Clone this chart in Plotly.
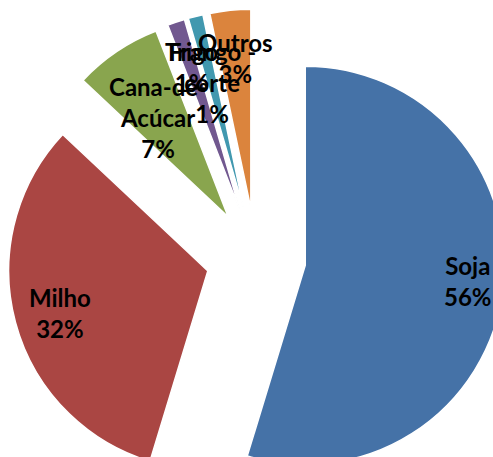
import math
import plotly.graph_objects as go

# ---- data ----
categories = ["Soja", "Milho", "Cana-de-Acúcar", "Trigo", "Frango - corte", "Outros"]
values = [54.7, 32.3, 7.1, 1.4, 1.2, 3.3]
label_text = ["Soja", "Milho", "Cana-de-<br>Acúcar", "Trigo", "Frango -<br>corte", "Outros"]
pct_labels = ["56%", "32%", "7%", "1%", "1%", "3%"]

# ---- style ----
colors = ["#4572A7", "#AA4643", "#89A54E", "#71588F", "#4198AF", "#DB843D"]
pull = 0.25
label_r = [1.07, 1.02, 0.86, 1.015, 0.91, 1.01]   # label distance from pie centre, in radii
label_da = [-2.3, -0.8, -1.0, 0.0, 0.0, 0.0]      # small angular nudge of labels, degrees

W, H = 530, 530
ML, MT = 7, 9
PLOT = 498
MR, MB = W - ML - PLOT, H - MT - PLOT

fig = go.Figure(go.Pie(
    labels=categories, values=values, sort=False,
    direction="clockwise", rotation=0,
    pull=[pull] * len(values),
    marker=dict(colors=colors, line=dict(color="white", width=1.5)),
    textinfo="none", hoverinfo="label+percent", showlegend=False,
    domain=dict(x=[0, 1], y=[0, 1]),
))

# pie radius in paper units (plotly: r = half box / (1 + max pull))
r_paper = 0.5 / (1 + pull)
total = sum(values)
cum = 0.0
annotations = []
for name, v, pct, lr, da in zip(label_text, values, pct_labels, label_r, label_da):
    mid = (cum + v / 2) / total * 2 * math.pi + math.radians(da)
    cum += v
    x = 0.5 + lr * r_paper * math.sin(mid)
    y = 0.5 + lr * r_paper * math.cos(mid)
    annotations.append(dict(
        x=x, y=y, xref="paper", yref="paper", showarrow=False,
        xanchor="center", yanchor="middle",
        text=f"<b>{name}<br>{pct}</b>",
        font=dict(family="Lato, Arial, sans-serif", size=24, color="black"),
    ))

fig.update_layout(
    width=W, height=H,
    margin=dict(l=ML, r=MR, t=MT, b=MB),
    paper_bgcolor="white", plot_bgcolor="white",
    annotations=annotations,
)

fig.write_html(
    "out.html",
    config={"displayModeBar": False},
    post_script="document.body.style.margin='0';document.body.style.overflow='hidden';"
                "document.documentElement.style.overflow='hidden';",
)
